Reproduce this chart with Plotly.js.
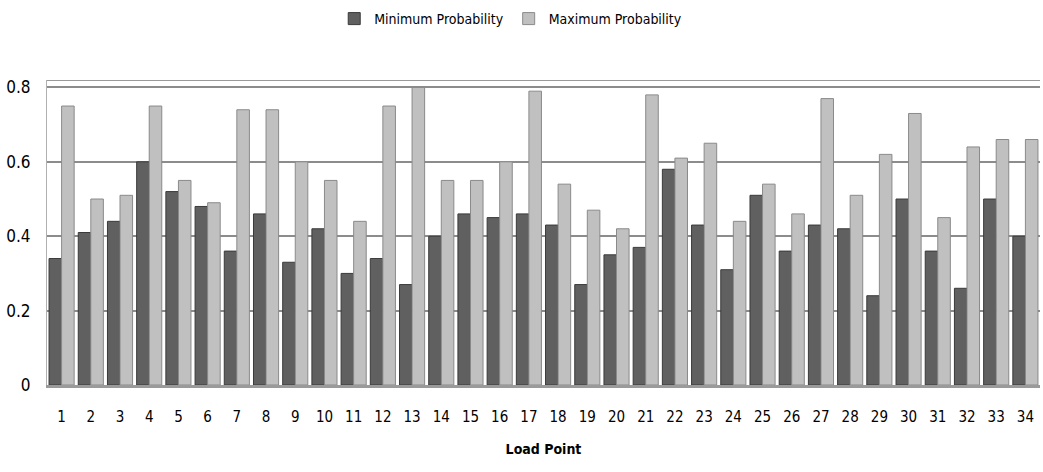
<!DOCTYPE html>
<html>
<head>
<meta charset="utf-8">
<script src="https://cdn.plot.ly/plotly-3.0.1.min.js"></script>
<style>html,body{margin:0;padding:0;background:#fff;}#chart{width:1043px;height:472px;}</style>
</head>
<body>
<div id="chart"></div>
<script>
const loadPoints = ["1","2","3","4","5","6","7","8","9","10","11","12","13","14","15","16","17","18","19","20","21","22","23","24","25","26","27","28","29","30","31","32","33","34"];
const minProbability = [0.34,0.41,0.44,0.60,0.52,0.48,0.36,0.46,0.33,0.42,0.30,0.34,0.27,0.40,0.46,0.45,0.46,0.43,0.27,0.35,0.37,0.58,0.43,0.31,0.51,0.36,0.43,0.42,0.24,0.50,0.36,0.26,0.50,0.40];
const maxProbability = [0.75,0.50,0.51,0.75,0.55,0.49,0.74,0.74,0.60,0.55,0.44,0.75,0.80,0.55,0.55,0.60,0.79,0.54,0.47,0.42,0.78,0.61,0.65,0.44,0.54,0.46,0.77,0.51,0.62,0.73,0.45,0.64,0.66,0.66];
const yTicks = [0, 0.2, 0.4, 0.6, 0.8];
const yTickText = ["0", "0.2", "0.4", "0.6", "0.8"];

const font = "'DejaVu Sans Condensed', 'Liberation Sans Narrow', sans-serif";

const traces = [
  {type: "bar", name: "Minimum Probability", x: loadPoints, y: minProbability,
   marker: {color: "#606060", line: {color: "#3a3a3a", width: 1}}},
  {type: "bar", name: "Maximum Probability", x: loadPoints, y: maxProbability,
   marker: {color: "#c0c0c0", line: {color: "#8a8a8a", width: 1}}}
];

const layout = {
  width: 1043, height: 472,
  margin: {l: 47, r: 3, t: 65, b: 87},
  paper_bgcolor: "#ffffff", plot_bgcolor: "#ffffff",
  font: {family: font, size: 14, color: "#000"},
  barmode: "group", bargap: 0.14, bargroupgap: 0,
  showlegend: true,
  legend: {orientation: "h", x: 0.467, xanchor: "center", y: 1.2, yanchor: "middle",
           font: {family: font, size: 14}, itemwidth: 30, traceorder: "normal"},
  xaxis: {type: "category", tickmode: "array", tickvals: loadPoints, ticktext: loadPoints,
          showgrid: false, showline: true, linecolor: "#9a9a9a", linewidth: 3,
          ticks: "", ticklabelstandoff: 16, tickfont: {family: font, size: 15},
          title: {text: "<b>Load Point</b>", font: {family: font, size: 14}, standoff: 20}},
  yaxis: {range: [0, 0.82], tickmode: "array", tickvals: yTicks, ticktext: yTickText,
          showgrid: true, gridcolor: "#8c8c8c", gridwidth: 2,
          zeroline: false, showline: true, linecolor: "#b0b0b0", linewidth: 1,
          ticks: "", ticklabelstandoff: 12, tickfont: {family: font, size: 17}},
  shapes: [
    {type: "line", xref: "paper", yref: "y", x0: 0, x1: 1, y0: 0.82, y1: 0.82,
     line: {color: "#9a9a9a", width: 2}}
  ]
};

Plotly.newPlot("chart", traces, layout, {displayModeBar: false, staticPlot: true});
</script>
</body>
</html>
